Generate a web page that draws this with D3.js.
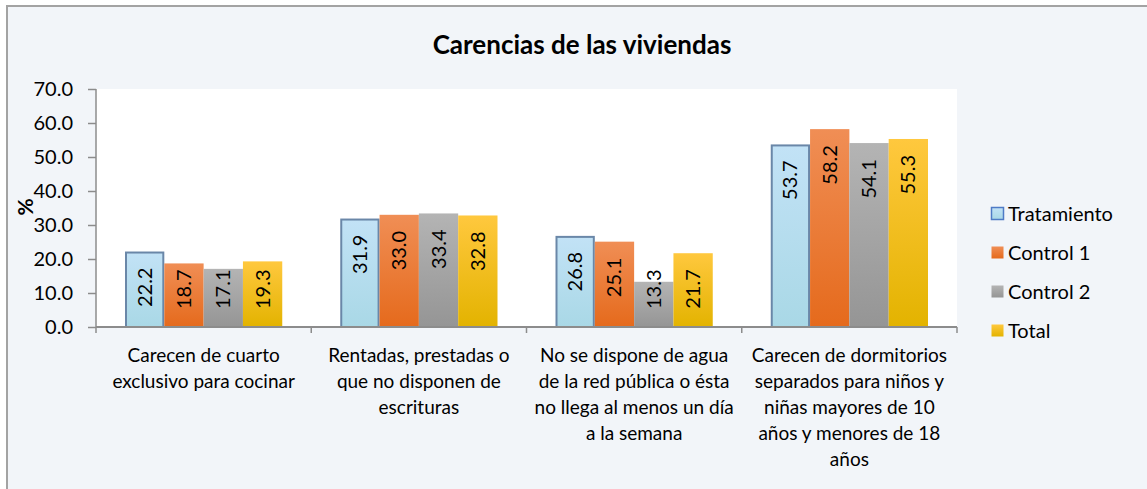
<!DOCTYPE html>
<html>
<head>
<meta charset="utf-8">
<script src="https://cdn.jsdelivr.net/npm/d3@7"></script>
<style>
  body { margin: 0; background: #fff; }
  text { font-family: Lato, "Open Sans", sans-serif; fill: #000; }
</style>
</head>
<body>
<div id="wrapper"></div>
<script>
const title = "Carencias de las viviendas"
const categories = [
  ["Carecen de cuarto", "exclusivo para cocinar"],
  ["Rentadas, prestadas o", "que no disponen de", "escrituras"],
  ["No se dispone de agua", "de la red pública o ésta", "no llega al menos un día", "a la semana"],
  ["Carecen de dormitorios", "separados para niños y", "niñas mayores de 10", "años y menores de 18", "años"],
]
const seriesNames = ["Tratamiento", "Control 1", "Control 2", "Total"]
const tratamiento = [22.2, 31.9, 26.8, 53.7]
const control1 = [18.7, 33.0, 25.1, 58.2]
const control2 = [17.1, 33.4, 13.3, 54.1]
const total = [19.3, 32.8, 21.7, 55.3]
const yTicks = [0, 10, 20, 30, 40, 50, 60, 70]

function drawBars() {
  const values = [tratamiento, control1, control2, total]

  let dimensions = {
    width: 1147,
    height: 489,
    margin: { top: 89, right: 190, bottom: 162, left: 96 },
  }
  dimensions.boundedWidth = dimensions.width - dimensions.margin.left - dimensions.margin.right
  dimensions.boundedHeight = dimensions.height - dimensions.margin.top - dimensions.margin.bottom

  const wrapper = d3.select("#wrapper")
    .append("svg")
    .attr("width", dimensions.width)
    .attr("height", dimensions.height)

  // gradients for the bars
  const defs = wrapper.append("defs")
  const grads = [
    ["g0", "#c2e2f6", "#a9d8e6"],
    ["g1", "#f08e55", "#e56a1c"],
    ["g2", "#b4b4b4", "#959595"],
    ["g3", "#ffc83e", "#e3b300"],
  ]
  grads.forEach(([id, c1, c2]) => {
    const lg = defs.append("linearGradient").attr("id", id)
      .attr("x1", 0).attr("y1", 0).attr("x2", 0).attr("y2", 1)
    lg.append("stop").attr("offset", "0%").attr("stop-color", c1)
    lg.append("stop").attr("offset", "100%").attr("stop-color", c2)
  })

  // outer chart area
  wrapper.append("rect")
    .attr("x", 7).attr("y", 6)
    .attr("width", dimensions.width + 10).attr("height", dimensions.height + 10)
    .attr("fill", "#f2f5f9")
    .attr("stroke", "#a3a3a3")
    .attr("stroke-width", 2)

  wrapper.append("text")
    .attr("x", 582).attr("y", 54)
    .attr("text-anchor", "middle")
    .style("font-size", "26px")
    .style("font-weight", "bold")
    .text(title)

  const bounds = wrapper.append("g")
    .attr("transform", `translate(${dimensions.margin.left}, ${dimensions.margin.top})`)

  bounds.append("rect")
    .attr("width", dimensions.boundedWidth)
    .attr("height", dimensions.boundedHeight)
    .attr("fill", "#fff")

  const yScaler = d3.scaleLinear()
    .domain([0, 70])
    .range([dimensions.boundedHeight, 0])

  const x0 = d3.scaleBand()
    .domain(d3.range(categories.length))
    .range([0, dimensions.boundedWidth])

  const x1 = d3.scaleBand()
    .domain(d3.range(seriesNames.length))
    .range([29, x0.bandwidth() - 29])

  const groups = bounds.selectAll(".grp")
    .data(categories)
    .join("g")
    .attr("transform", (d, i) => `translate(${x0(i)}, 0)`)

  groups.each(function (cat, ci) {
    const g = d3.select(this)
    seriesNames.forEach((s, si) => {
      const v = values[si][ci]
      const top = yScaler(v)
      g.append("rect")
        .attr("x", x1(si) + (si == 0 ? 1 : 0))
        .attr("y", top + (si == 0 ? 1 : 0))
        .attr("width", x1.bandwidth() - (si == 0 ? 2 : 0))
        .attr("height", yScaler(0) - top - (si == 0 ? 1 : 0))
        .attr("fill", `url(#g${si})`)
        .attr("stroke", si == 0 ? "#6a87a8" : "none")
        .attr("stroke-width", 2)
      const lbl = g.append("text")
        .attr("text-anchor", "end")
        .style("font-size", "20px")
        .text(v.toFixed(1))
      const len = lbl.node().getComputedTextLength()
      const endY = Math.min(top + 16, yScaler(0) - 18 - len)
      const cx = x1(si) + x1.bandwidth() / 2
      lbl.attr("transform", `translate(${cx + 7}, ${endY}) rotate(-90)`)
    })
  })

  // axes
  const yAxis = bounds.append("g")
    .call(d3.axisLeft(yScaler).tickValues(yTicks).tickFormat(d3.format(".1f")).tickSize(8).tickPadding(15))
  yAxis.selectAll("path, line").attr("stroke", "#8c8c8c").attr("stroke-width", 1.5)
  yAxis.select(".domain").attr("d", `M0,0V${dimensions.boundedHeight}`)
  yAxis.selectAll("text").style("font-size", "20px").attr("fill", "#000")

  const xAxis = bounds.append("g")
    .attr("transform", `translate(0, ${dimensions.boundedHeight})`)
  xAxis.append("line")
    .attr("x1", 0).attr("x2", dimensions.boundedWidth)
    .attr("stroke", "#8c8c8c").attr("stroke-width", 2)
  xAxis.selectAll(".tk")
    .data(d3.range(categories.length + 1))
    .join("line")
    .attr("x1", d => d * x0.bandwidth()).attr("x2", d => d * x0.bandwidth())
    .attr("y1", 0).attr("y2", 6)
    .attr("stroke", "#8c8c8c").attr("stroke-width", 1.5)

  categories.forEach((lines, i) => {
    const t = xAxis.append("text")
      .attr("text-anchor", "middle")
      .style("font-size", "19px")
    lines.forEach((l, li) => {
      t.append("tspan")
        .attr("x", x0(i) + x0.bandwidth() / 2)
        .attr("y", 35 + li * 26)
        .text(l)
    })
  })

  // y title
  wrapper.append("text")
    .attr("transform", "translate(33, 207) rotate(-90)")
    .attr("text-anchor", "middle")
    .style("font-size", "21px")
    .style("font-weight", "bold")
    .text("%")

  // legend
  const legend = wrapper.append("g").attr("transform", "translate(991, 214)")
  seriesNames.forEach((s, i) => {
    const row = legend.append("g").attr("transform", `translate(0, ${i * 39})`)
    row.append("rect")
      .attr("x", 0.5).attr("y", -6.5)
      .attr("width", 12).attr("height", 12)
      .attr("fill", `url(#g${i})`)
      .attr("stroke", i == 0 ? "#4f7bc6" : "none")
      .attr("stroke-width", 1.5)
    row.append("text")
      .attr("x", 17).attr("y", 7)
      .style("font-size", "20px")
      .text(s)
  })
}

drawBars()
</script>
</body>
</html>
